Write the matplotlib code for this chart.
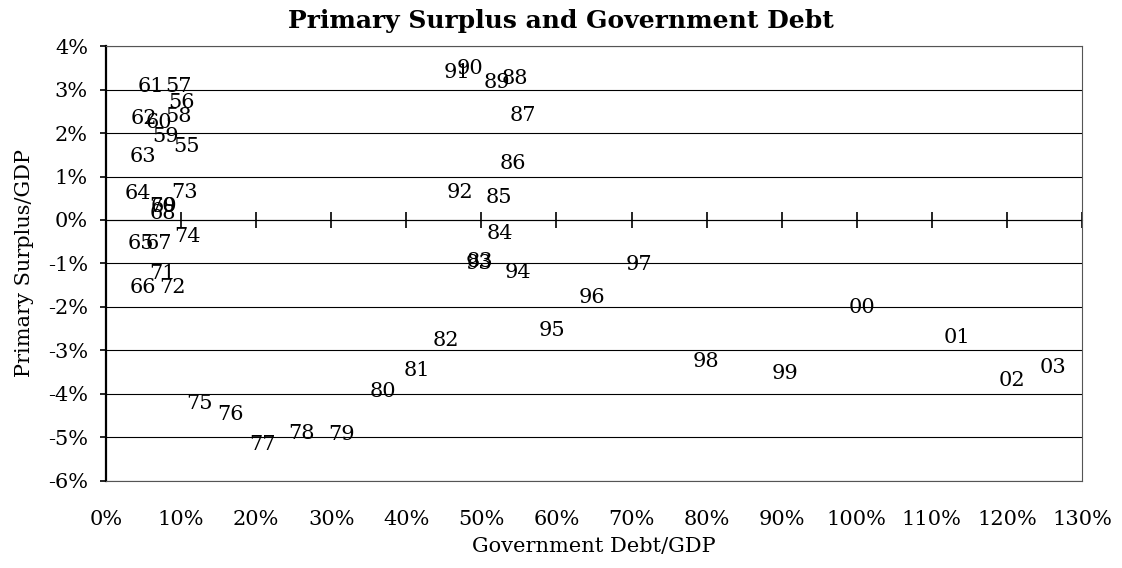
import matplotlib
matplotlib.use("Agg")
import matplotlib.pyplot as plt
from matplotlib.ticker import FuncFormatter, MultipleLocator, NullFormatter

# year labels, government debt / GDP (%), primary surplus / GDP (%)
years = ["55", "56", "57", "58", "59", "60", "61", "62", "63", "64",
         "65", "66", "67", "68", "69", "70", "71", "72", "73", "74",
         "75", "76", "77", "78", "79", "80", "81", "82", "83", "84",
         "85", "86", "87", "88", "89", "90", "91", "92", "93", "94",
         "95", "96", "97", "98", "99", "00", "01", "02", "03"]
debt = [10.7, 10.1, 9.6, 9.6, 7.9, 7.1, 6.0, 5.1, 4.9, 4.3,
        4.7, 4.9, 7.1, 7.6, 7.7, 7.5, 7.5, 8.8, 10.4, 10.8,
        12.5, 16.6, 20.9, 26.1, 31.4, 36.9, 41.4, 45.3, 49.8, 52.5,
        52.3, 54.2, 55.5, 54.5, 52.1, 48.5, 46.7, 47.1, 49.7, 54.9,
        59.4, 64.7, 71.0, 79.9, 90.4, 100.7, 113.3, 120.7, 126.1]
surplus = [1.68, 2.71, 3.08, 2.37, 1.91, 2.25, 3.08, 2.34, 1.45, 0.62,
           -0.53, -1.56, -0.53, 0.16, 0.32, 0.32, -1.22, -1.56, 0.64, -0.39,
           -4.21, -4.48, -5.17, -4.90, -4.94, -3.95, -3.47, -2.78, -0.95, -0.30,
           0.51, 1.31, 2.41, 3.26, 3.15, 3.49, 3.40, 0.64, -1.00, -1.20,
           -2.55, -1.79, -1.03, -3.26, -3.52, -2.02, -2.69, -3.68, -3.38]

FONT = "DejaVu Serif"
FS = 15
plt.rcParams["font.family"] = FONT

fig = plt.figure(figsize=(11.22, 5.68), dpi=100)
ax = fig.add_axes([0.0945, 0.1532, 0.8698, 0.7658])

ax.set_xlim(0, 130)
ax.set_ylim(-6, 4)

# year numbers are the markers
for yr, x, y in zip(years, debt, surplus):
    ax.text(x, y, yr, ha="center", va="center", fontsize=FS, color="black")

ax.yaxis.set_major_locator(MultipleLocator(1))
ax.xaxis.set_major_locator(MultipleLocator(10))
pct = FuncFormatter(lambda v, _: f"{v:.0f}%")
ax.yaxis.set_major_formatter(pct)
ax.xaxis.set_major_formatter(pct)
ax.yaxis.grid(True, color="black", lw=0.8)
ax.set_axisbelow(True)

ax.tick_params(axis="x", length=0, pad=21, labelsize=FS)
ax.tick_params(axis="y", direction="out", length=4, width=1.2, pad=9, labelsize=FS)

for side in ("top", "right", "bottom"):
    ax.spines[side].set_color("#555555")
    ax.spines[side].set_linewidth(0.8)
ax.spines["left"].set_linewidth(1.6)

# x axis crossing at 0% with cross ticks, labels stay at the bottom
lo, hi = ax.get_ylim()
sec = ax.secondary_xaxis((0 - lo) / (hi - lo))
sec.xaxis.set_major_locator(MultipleLocator(10))
sec.xaxis.set_major_formatter(NullFormatter())
sec.tick_params(direction="inout", length=11, width=1.2,
                labelbottom=False, labeltop=False)
sec.spines["bottom"].set_linewidth(1.6)

ax.set_xlabel("Government Debt/GDP", fontsize=FS, labelpad=6)
ax.set_ylabel("Primary Surplus/GDP", fontsize=FS, labelpad=10)
fig.suptitle("Primary Surplus and Government Debt", x=0.5, y=0.963,
             va="center", fontsize=18, fontweight="bold")

fig.savefig("out.png", dpi=100)
